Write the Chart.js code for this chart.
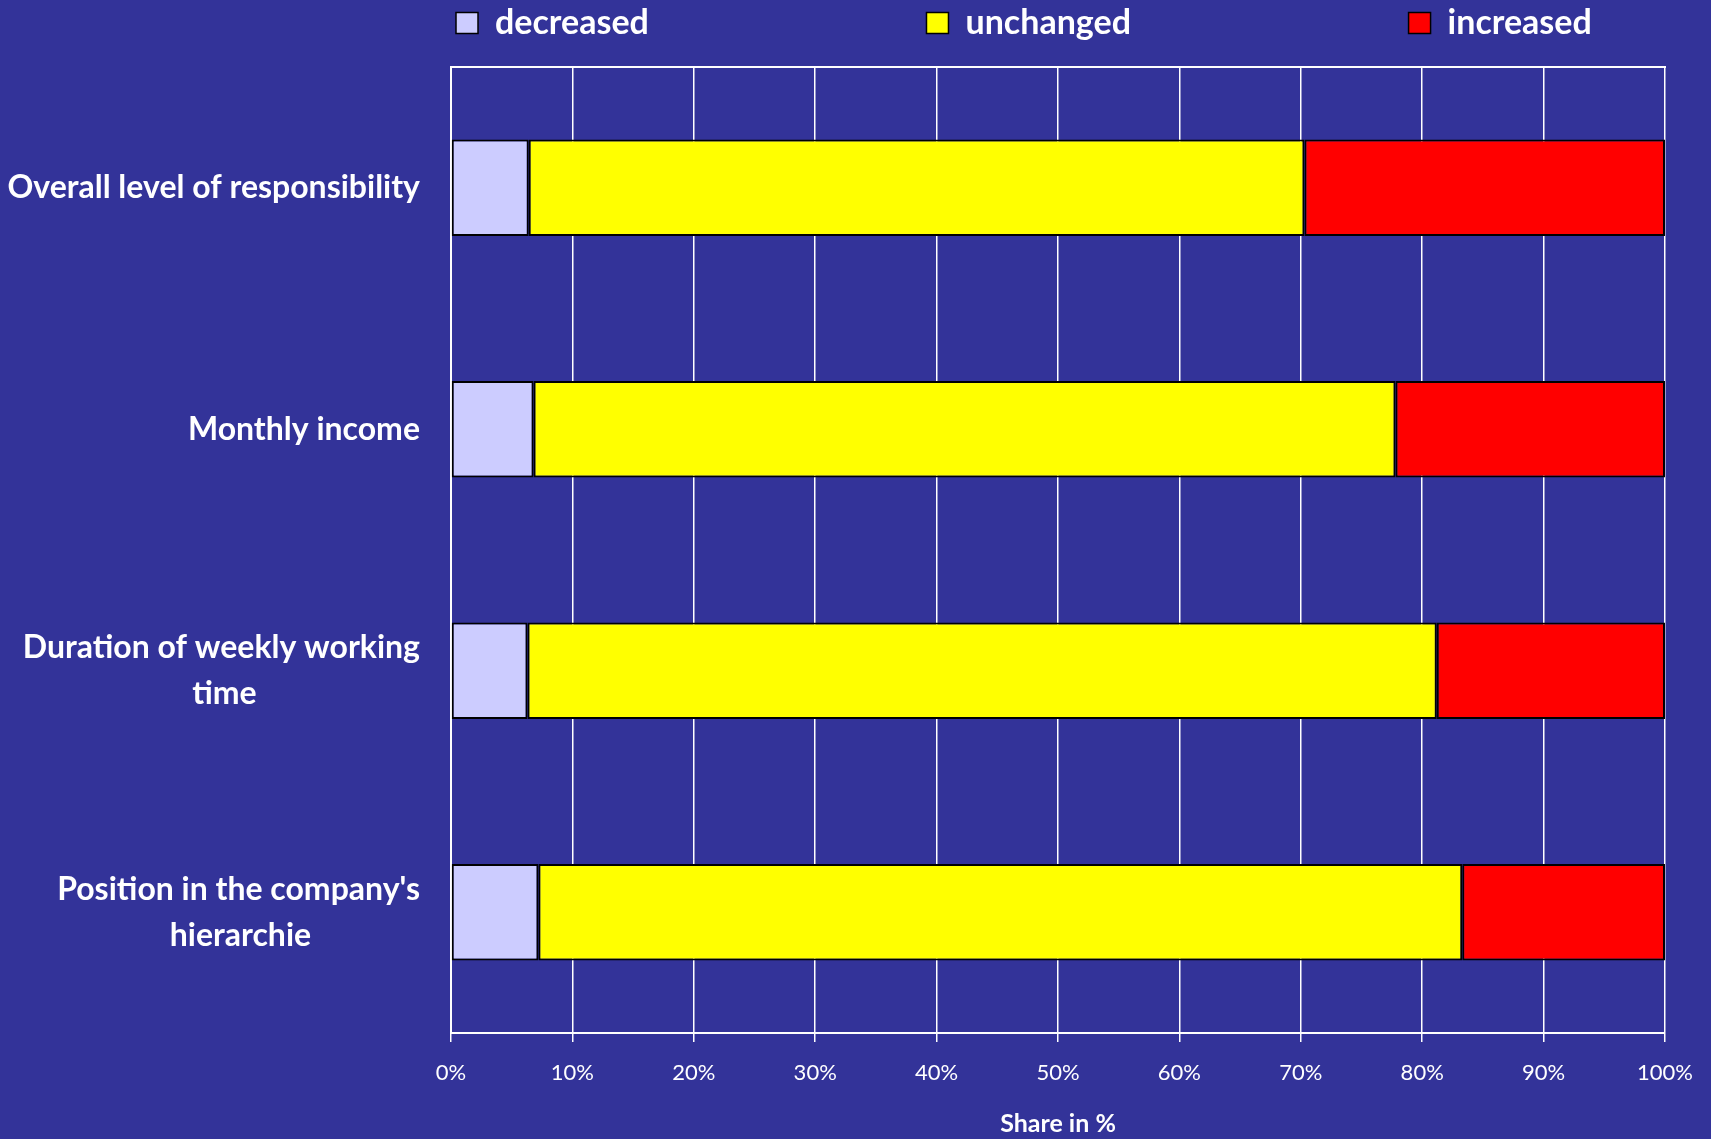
<!DOCTYPE html>
<html>
<head>
<meta charset="utf-8">
<script src="https://cdn.jsdelivr.net/npm/chart.js@4"></script>
<style>
  html, body { margin: 0; padding: 0; background: #333399; }
  #wrap { width: 1711px; height: 1139px; }
</style>
</head>
<body>
<div id="wrap"><canvas id="bar-chart"></canvas></div>
<script>
const categorie = [
    ["Overall level of responsibility"],
    ["Monthly income"],
    ["Duration of weekly working", "time"],
    ["Position in the company's", "hierarchie"],
  ],
  serie = ["decreased", "unchanged", "increased"],
  colori = ["#CCCCFF", "#FFFF00", "#FF0000"],
  decreased = [6.4, 6.8, 6.3, 7.2],
  unchanged = [63.9, 71.0, 74.9, 76.1],
  increased = [29.7, 22.2, 18.8, 16.7],
  xTicks = [0, 10, 20, 30, 40, 50, 60, 70, 80, 90, 100];

const fam = "Lato",
  labelFont = { family: fam, size: 32, weight: "bold", lineHeight: 1.44 },
  legendFont = { family: fam, size: 34, weight: "bold" },
  legendX = [456, 934, 1421], // where each legend box starts
  legendPad = 5,
  legendBox = 22;

const misura = document.createElement("canvas").getContext("2d");

// pad a string with trailing spaces until it is about `width` px wide
function riempi(testo, font, width) {
  misura.font = font;
  let t = testo;
  while (misura.measureText(t + " ").width <= width) t += " ";
  return t;
}

// second line centred under the first one, block still right aligned
const etichette = categorie.map((righe) => {
  if (righe.length < 2) return righe[0];
  const f = "bold " + labelFont.size + "px " + fam;
  misura.font = f;
  const w1 = misura.measureText(righe[0]).width,
    w2 = misura.measureText(righe[1]).width;
  return [righe[0], riempi(righe[1], f, (w1 + w2) / 2)];
});

const serieDati = [decreased, unchanged, increased];

const config = {
  type: "bar",
  data: {
    labels: etichette,
    datasets: serie.map((nome, i) => ({
      label: nome,
      data: serieDati[i],
      backgroundColor: colori[i],
      borderColor: "#000000",
      borderWidth: 2,
      borderSkipped: false,
    })),
  },
  options: {
    indexAxis: "y",
    responsive: true,
    maintainAspectRatio: false,
    animation: false,
    barPercentage: 0.4,
    categoryPercentage: 1.0,
    layout: { padding: { left: 0, right: 46, top: 1, bottom: 0 } },
    plugins: {
      tooltip: { enabled: false },
      legend: {
        position: "top",
        align: "start",
        fullSize: false,
        labels: {
          color: "#ffffff",
          font: legendFont,
          boxWidth: legendBox,
          boxHeight: 21,
          padding: legendPad,
          generateLabels(chart) {
            const items = Chart.defaults.plugins.legend.labels.generateLabels(chart);
            const f = "bold " + legendFont.size + "px " + fam;
            items.forEach((it, i) => {
              it.lineWidth = 1.5;
              if (i < items.length - 1) {
                const w = legendX[i + 1] - legendX[i] - legendPad - legendBox - legendFont.size / 2;
                it.text = riempi(it.text, f, w);
              }
            });
            return items;
          },
        },
      },
    },
    scales: {
      x: {
        stacked: true,
        min: 0,
        max: 100,
        position: "bottom",
        afterBuildTicks: (s) => {
          s.ticks = xTicks.map((v) => ({ value: v }));
        },
        grid: { color: "#ffffff", lineWidth: 1.5, tickLength: 9, tickColor: "#ffffff" },
        border: { color: "#ffffff", width: 2 },
        ticks: {
          color: "#ffffff",
          font: { family: fam, size: 22 },
          padding: 18,
          maxRotation: 0,
          autoSkip: false,
          callback: (v) => v + "%",
        },
        title: {
          display: true,
          text: "Share in %",
          color: "#ffffff",
          font: { family: fam, size: 25, weight: "bold" },
          padding: 0,
        },
        afterFit: (s) => {
          s.height = 106;
        },
      },
      xTop: {
        position: "top",
        min: 0,
        max: 100,
        grid: { display: false },
        ticks: { display: false },
        border: { color: "#ffffff", width: 2 },
        afterFit: (s) => {
          s.height = 17;
        },
      },
      y: {
        stacked: true,
        grid: { display: false, drawTicks: false },
        border: { color: "#ffffff", width: 2 },
        ticks: {
          color: "#ffffff",
          font: labelFont,
          padding: 31,
        },
        afterFit: (s) => {
          s.width = 451;
          s.paddingTop = 0;
          s.paddingBottom = 0;
        },
      },
    },
  },
};

new Chart(document.getElementById("bar-chart").getContext("2d"), config);
</script>
</body>
</html>
